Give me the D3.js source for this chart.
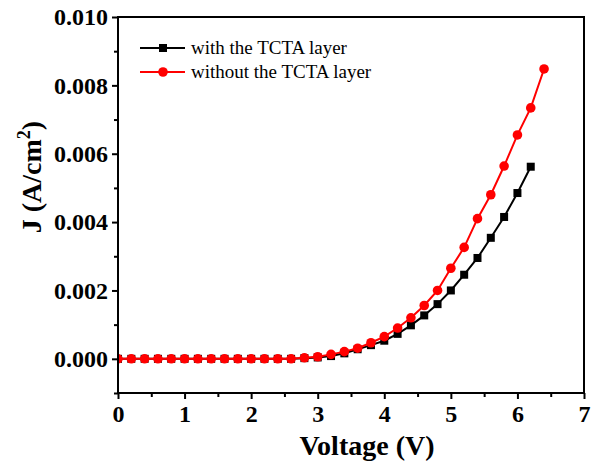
<!DOCTYPE html>
<html>
<head>
<meta charset="utf-8">
<script src="https://d3js.org/d3.v7.min.js" type="text/javascript"></script>
<style>
  body { margin: 0; background: #fff; }
  svg { display: block; font-family: 'Liberation Serif', 'Times New Roman', serif; }
  .legend { font-size: 19px; }
</style>
</head>
<body>
<svg id="jv-chart" width="593" height="472"></svg>
<script type="text/javascript">
// voltage steps (V)
const voltage = [0, 0.2, 0.4, 0.6, 0.8, 1.0, 1.2, 1.4, 1.6, 1.8, 2.0, 2.2, 2.4, 2.6,
  2.8, 3.0, 3.2, 3.4, 3.6, 3.8, 4.0, 4.2, 4.4, 4.6, 4.8, 5.0, 5.2, 5.4, 5.6, 5.8, 6.0, 6.2, 6.4];

// current density (A/cm2)
const withTCTA = [0, 0, 0, 0, 0, 0, 0, 0, 0, 0, 0, 0, 0, 0,
  0.00002, 0.00004, 0.00008, 0.00016, 0.00028, 0.0004, 0.00053, 0.00073, 0.00098, 0.00127,
  0.0016, 0.002, 0.00246, 0.00295, 0.00354, 0.00415, 0.00485, 0.00562];
const withoutTCTA = [0, 0, 0, 0, 0, 0, 0, 0, 0, 0, 0, 0, 0, 0,
  0.00003, 0.00006, 0.00013, 0.00021, 0.00031, 0.00047, 0.00065, 0.0009, 0.0012, 0.00156,
  0.002, 0.00265, 0.00326, 0.0041, 0.0048, 0.00564, 0.00655, 0.00734, 0.00848];

const seriesNames = ["with the TCTA layer", "without the TCTA layer"];
const xTicks = [0, 1, 2, 3, 4, 5, 6, 7];
const xMinor = [0.5, 1.5, 2.5, 3.5, 4.5, 5.5, 6.5];
const yTicks = [0, 0.002, 0.004, 0.006, 0.008, 0.010];
const yMinor = [-0.001, 0.001, 0.003, 0.005, 0.007, 0.009];

const width = 593;
const height = 472;
const margin = { top: 17, right: 9, bottom: 79, left: 118 };
const serif = "'Liberation Serif', 'Times New Roman', serif";

const svg = d3.select("#jv-chart");

const x = d3.scaleLinear().domain([0, 7]).range([margin.left, width - margin.right]);
const y = d3.scaleLinear().domain([-0.001, 0.010]).range([height - margin.bottom, margin.top]);

// clip so the markers at V=0 don't spill over the axis
svg.append("clipPath").attr("id", "plot-clip")
  .append("rect")
  .attr("x", margin.left)
  .attr("y", margin.top)
  .attr("width", width - margin.left - margin.right)
  .attr("height", height - margin.top - margin.bottom);

const plot = svg.append("g").attr("clip-path", "url(#plot-clip)");

const blackData = withTCTA.map((j, i) => ({ v: voltage[i], j }));
const redData = withoutTCTA.map((j, i) => ({ v: voltage[i], j }));

const line = d3.line().x(d => x(d.v)).y(d => y(d.j));

// black series: squares
plot.append("path")
  .datum(blackData)
  .attr("fill", "none")
  .attr("stroke", "#000")
  .attr("stroke-width", 2)
  .attr("d", line);

plot.selectAll(".sq")
  .data(blackData)
  .enter().append("rect")
  .attr("class", "sq")
  .attr("x", d => x(d.v) - 4)
  .attr("y", d => y(d.j) - 4)
  .attr("width", 8)
  .attr("height", 8)
  .attr("fill", "#000");

// red series: circles
plot.append("path")
  .datum(redData)
  .attr("fill", "none")
  .attr("stroke", "#ff0000")
  .attr("stroke-width", 2)
  .attr("d", line);

plot.selectAll(".dot")
  .data(redData)
  .enter().append("circle")
  .attr("class", "dot")
  .attr("cx", d => x(d.v))
  .attr("cy", d => y(d.j))
  .attr("r", 4.8)
  .attr("fill", "#ff0000");

// axes
const axes = [];
axes.push(svg.append("g")
  .attr("transform", `translate(0,${height - margin.bottom})`)
  .call(d3.axisBottom(x).tickValues(xTicks).tickSize(6).tickPadding(6).tickFormat(d3.format("d"))));

axes.push(svg.append("g")
  .attr("transform", `translate(0,${height - margin.bottom})`)
  .call(d3.axisBottom(x).tickValues(xMinor).tickSize(4).tickFormat("")));

axes.push(svg.append("g")
  .attr("transform", `translate(${margin.left},0)`)
  .call(d3.axisLeft(y).tickValues(yTicks).tickSize(6).tickPadding(4).tickFormat(d3.format(".3f"))));

axes.push(svg.append("g")
  .attr("transform", `translate(${margin.left},0)`)
  .call(d3.axisLeft(y).tickValues(yMinor).tickSize(4).tickFormat("")));

axes.forEach(g => {
  g.attr("font-family", serif).attr("font-size", 24);
  g.select(".domain").remove();
  g.selectAll(".tick line").attr("stroke", "#000").attr("stroke-width", 2);
  g.selectAll(".tick text")
    .style("font-family", serif)
    .style("font-size", "24px")
    .style("font-weight", "bold")
    .attr("fill", "#000");
});

// frame
svg.append("rect")
  .attr("x", margin.left)
  .attr("y", margin.top)
  .attr("width", width - margin.left - margin.right)
  .attr("height", height - margin.top - margin.bottom)
  .attr("fill", "none")
  .attr("stroke", "#000")
  .attr("stroke-width", 2);

// axis titles
svg.append("text")
  .attr("x", 367)
  .attr("y", 455)
  .attr("text-anchor", "middle")
  .style("font-size", "28px")
  .style("font-weight", "bold")
  .text("Voltage (V)");

const yTitle = svg.append("text")
  .attr("transform", `translate(41,${(y(0.010) + y(-0.001)) / 2 - 28}) rotate(-90)`)
  .attr("text-anchor", "middle")
  .style("font-size", "28px")
  .style("font-weight", "bold");
yTitle.append("tspan").text("J (A/cm");
yTitle.append("tspan").attr("dy", -11).style("font-size", "18px").text("2");
yTitle.append("tspan").attr("dy", 11).text(")");

// legend
const legend = svg.append("g").attr("transform", "translate(140,48)");
seriesNames.forEach((name, i) => {
  const color = i === 0 ? "#000" : "#ff0000";
  const row = legend.append("g").attr("transform", `translate(0,${i * 24})`);
  row.append("line")
    .attr("x1", 0).attr("x2", 45)
    .attr("stroke", color).attr("stroke-width", 2);
  if (i === 0) {
    row.append("rect").attr("x", 19).attr("y", -4).attr("width", 8).attr("height", 8).attr("fill", color);
  } else {
    row.append("circle").attr("cx", 23).attr("cy", 0).attr("r", 4.8).attr("fill", color);
  }
  row.append("text")
    .attr("class", "legend")
    .attr("x", 51)
    .attr("y", 6)
    .text(name);
});
</script>
</body>
</html>
